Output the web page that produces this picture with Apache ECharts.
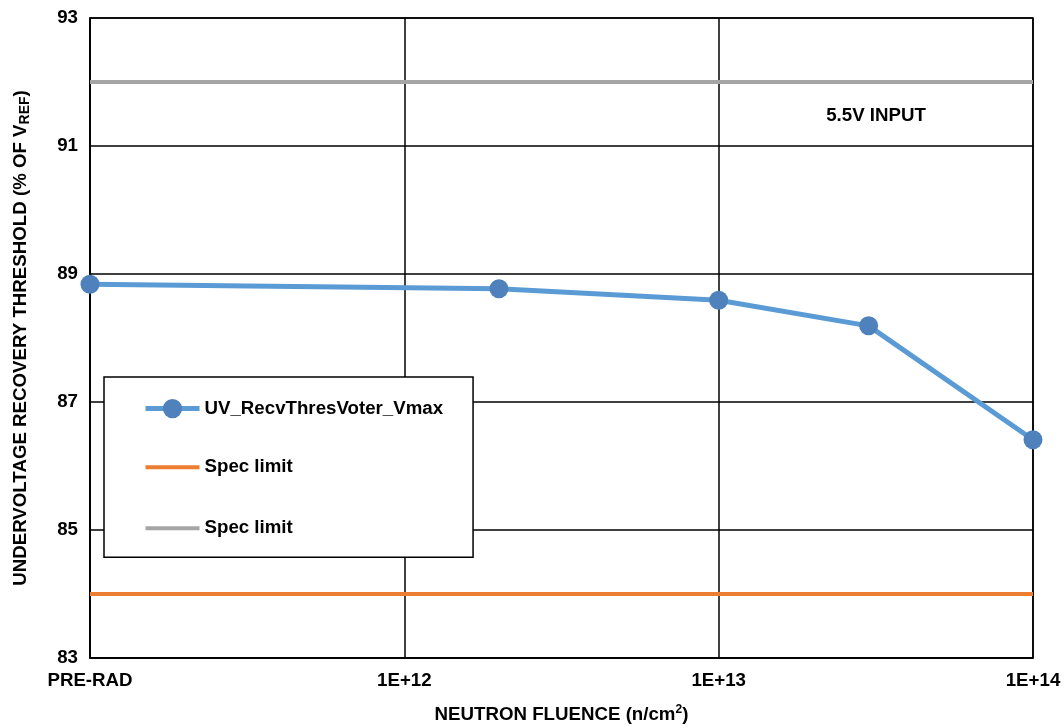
<!DOCTYPE html>
<html>
<head>
<meta charset="utf-8">
<script src="https://cdn.jsdelivr.net/npm/echarts@6/dist/echarts.min.js"></script>
<style>
html,body{margin:0;padding:0;background:#fff;}
#c{width:1064px;height:726px;}
</style>
</head>
<body>
<div id="c"></div>
<script>
// ---- data ----
const fluence = [1e11, 2e12, 1e13, 3e13, 1e14];   // 1e11 = PRE-RAD
const uvRecv = [88.84, 88.77, 88.59, 88.19, 86.41];
const specRange = [1e11, 1e14];
const specLow = [84, 84];
const specHigh = [92, 92];
const xTickLabels = {11: 'PRE-RAD', 12: '1E+12', 13: '1E+13', 14: '1E+14'};
const seriesNames = ['UV_RecvThresVoter_Vmax', 'Spec limit', 'Spec limit '];
const annotation = '5.5V INPUT';

const FONT = '"Liberation Sans", Arial, sans-serif';
const FS = 18.7;
const lineIcon = 'path://M0,0 L0.01,0 L0.01,0.01 Z M0,10 L54,10 L54,14 L0,14 Z M53.99,24 L54,24 L54,23.99 Z';
const chart = echarts.init(document.getElementById('c'), null, {renderer: 'canvas'});

chart.setOption({
  backgroundColor: '#fff',
  animation: false,
  grid: {left: 90, right: 31, top: 18, bottom: 68, show: true, borderColor: '#000', borderWidth: 1.5,
         backgroundColor: 'transparent', containLabel: false, outerBoundsMode: 'none'},
  xAxis: {
    type: 'log', logBase: 10, min: 1e11, max: 1e14,
    name: '{t|NEUTRON FLUENCE (n/cm}{sup|2}{t|)}',
    nameLocation: 'middle', nameGap: 46,
    nameTextStyle: {
      rich: {
        t: {fontFamily: FONT, fontWeight: 'bold', fontSize: FS, color: '#000'},
        sup: {fontFamily: FONT, fontWeight: 'bold', fontSize: 12, color: '#000', padding: [0, 0, 9, 0]}
      }
    },
    axisLine: {show: true, lineStyle: {color: '#000', width: 1.5}},
    axisTick: {show: false},
    minorTick: {show: false},
    splitLine: {show: true, lineStyle: {color: '#000', width: 1.5}},
    axisLabel: {
      fontFamily: FONT, fontWeight: 'bold', fontSize: FS, color: '#000', margin: 13,
      formatter: v => xTickLabels[Math.round(Math.log10(v))] || ''
    }
  },
  yAxis: {
    type: 'value', min: 83, max: 93, interval: 2,
    name: '{t|UNDERVOLTAGE RECOVERY THRESHOLD (% OF V}{sub|REF}{t|)}',
    nameLocation: 'middle', nameGap: 58, nameRotate: 90,
    nameTextStyle: {
      rich: {
        t: {fontFamily: FONT, fontWeight: 'bold', fontSize: FS, color: '#000'},
        sub: {fontFamily: FONT, fontWeight: 'bold', fontSize: 14, color: '#000', padding: [9, 0, 0, 0]}
      }
    },
    axisLine: {show: true, lineStyle: {color: '#000', width: 1.5}},
    axisTick: {show: false},
    splitLine: {show: true, lineStyle: {color: '#000', width: 1.5}},
    axisLabel: {fontFamily: FONT, fontWeight: 'bold', fontSize: FS, color: '#000', margin: 12}
  },
  legend: {
    orient: 'vertical', left: 104, top: 377,
    backgroundColor: '#fff', borderColor: '#000', borderWidth: 1.5,
    padding: [22, 30, 17, 39],
    itemWidth: 54, itemHeight: 24, itemGap: 37,
    lineStyle: {width: 'inherit'},
    textStyle: {fontFamily: FONT, fontWeight: 'bold', fontSize: FS, color: '#000'},
    formatter: n => n.trim(),
    data: [
      {name: seriesNames[0]},
      {name: seriesNames[1], icon: lineIcon},
      {name: seriesNames[2], icon: lineIcon}
    ]
  },
  graphic: [{
    type: 'text', x: 876, y: 116,
    style: {text: annotation, fontFamily: FONT, fontWeight: 'bold', fontSize: FS, fill: '#000', align: 'center', verticalAlign: 'middle'}
  }],
  series: [
    {
      name: seriesNames[0], type: 'line',
      data: fluence.map((f, i) => [f, uvRecv[i]]),
      symbol: 'circle', symbolSize: 19,
      lineStyle: {color: '#5B9BD5', width: 5},
      itemStyle: {color: '#4F81BD'},
      z: 5
    },
    {
      name: seriesNames[1], type: 'line',
      data: specRange.map((f, i) => [f, specLow[i]]),
      symbol: 'none', showSymbol: false,
      lineStyle: {color: '#ED7D31', width: 4},
      itemStyle: {color: '#ED7D31'},
      z: 3
    },
    {
      name: seriesNames[2], type: 'line',
      data: specRange.map((f, i) => [f, specHigh[i]]),
      symbol: 'none', showSymbol: false,
      lineStyle: {color: '#A5A5A5', width: 4},
      itemStyle: {color: '#A5A5A5'},
      z: 3
    }
  ]
});
</script>
</body>
</html>
